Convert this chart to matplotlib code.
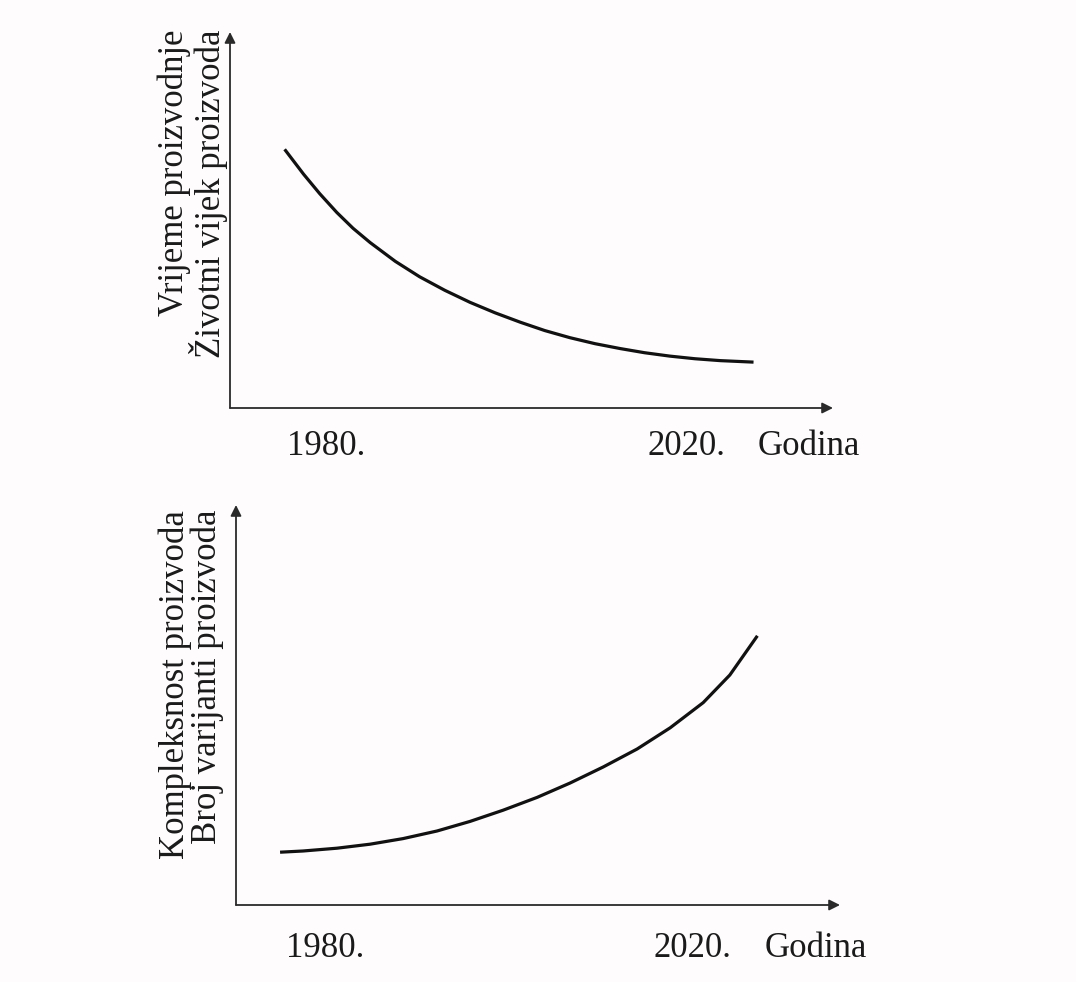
import matplotlib.pyplot as plt
import matplotlib.transforms as mtransforms

plt.rcParams['font.family'] = ['Liberation Serif', 'DejaVu Serif']

# Top chart: production time / product life cycle (schematic)
years_top = [1975.4, 1977.5, 1979.3, 1981.2, 1983.0, 1984.9, 1987.7, 1990.4, 1993.2,
             1996.0, 1998.8, 2001.6, 2004.3, 2007.1, 2009.9, 2012.7, 2015.4, 2018.2,
             2021.0, 2023.8, 2027.5]
vals_top = [68.8, 62.2, 57.0, 52.0, 47.8, 44.0, 39.0, 34.9, 31.3, 28.1, 25.3, 22.8,
            20.6, 18.7, 17.1, 15.8, 14.7, 13.8, 13.1, 12.6, 12.2]

# Bottom chart: product complexity / number of variants
years_bot = [1975.1, 1977.6, 1981.3, 1984.9, 1988.5, 1992.2, 1995.8, 1999.4, 2003.1,
             2006.7, 2010.3, 2014.0, 2017.6, 2021.2, 2024.1, 2027.1]
vals_bot = [13.2, 13.5, 14.2, 15.2, 16.6, 18.5, 20.9, 23.7, 26.9, 30.5, 34.5, 39.0,
            44.3, 50.6, 57.5, 67.3]

tick_years = [1980, 2020]
tick_labels = ["1980.", "2020."]
xlabel = "Godina"
ylabel_top = "Vrijeme proizvodnje\nŽivotni vijek proizvoda"
ylabel_bot = "Kompleksnost proizvoda\nBroj varijanti proizvoda"

W, H = 1076, 982
fig = plt.figure(figsize=(W / 100, H / 100), dpi=100)
fig.patch.set_facecolor("#fefcfd")


def px_axes(left, right, top, bottom):
    return fig.add_axes([left / W, 1 - bottom / H, (right - left) / W, (bottom - top) / H])


def draw_panel(ax, xs, ys, xlim, label_y_px, godina_x, ylabel, ylabel_x, ylabel_top_px):
    ax.set_xlim(*xlim)
    ax.set_ylim(0, 100)
    ax.axis("off")
    ax.patch.set_alpha(0)

    # axes drawn as arrows
    arrow = dict(arrowstyle="-|>", mutation_scale=16, lw=1.3, color="#2a2a2a",
                 shrinkA=0, shrinkB=0)
    ax.annotate("", xy=(1, 0), xytext=(0, 0), xycoords="axes fraction", arrowprops=arrow)
    ax.annotate("", xy=(0, 1), xytext=(0, 0), xycoords="axes fraction", arrowprops=arrow)

    ax.plot(xs, ys, color="#111111", lw=2.3, solid_capstyle="butt",
            solid_joinstyle="round", clip_on=False)

    # year labels under the x axis
    blend = mtransforms.blended_transform_factory(ax.transData, fig.transFigure)
    ty = 1 - label_y_px / H
    for yr, lab in zip(tick_years, tick_labels):
        ax.text(yr, ty, lab, transform=blend, ha="center", va="baseline",
                fontsize=25, color="#1a1a1a")
    ax.text(godina_x, ty, xlabel, transform=blend, ha="center", va="baseline",
            fontsize=25, color="#1a1a1a")

    fig.text(ylabel_x / W, 1 - ylabel_top_px / H, ylabel, rotation=90, ha="center",
             va="top", multialignment="right", fontsize=25, linespacing=0.95,
             color="#1a1a1a")


ax1 = px_axes(230, 833, 32, 408)
draw_panel(ax1, years_top, vals_top, (1969.33, 2036.33), 455, 2033.6,
           ylabel_top, 193, 30)

ax2 = px_axes(236, 840, 505, 905)
draw_panel(ax2, years_bot, vals_bot, (1970.3, 2036.1), 957, 2033.5,
           ylabel_bot, 191, 510)

plt.savefig("out.png", dpi=100, facecolor=fig.get_facecolor())
